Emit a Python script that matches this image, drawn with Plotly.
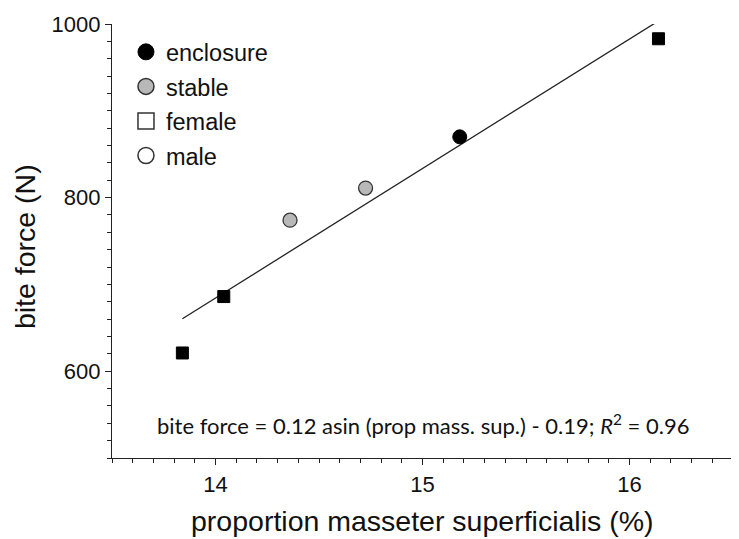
import numpy as np
import plotly.graph_objects as go

# ---- data ----
ef_x = [13.84, 14.04, 16.14]          # enclosure, female (squares, black)
ef_y = [621, 686, 983]
em_x = [15.18]                        # enclosure, male (circle, black)
em_y = [870]
sm_x = [14.36, 14.725]                # stable, male (circles, grey)
sm_y = [774, 811]

x_ticks = [14, 15, 16]
y_ticks = [600, 800, 1000]
legend_labels = ["enclosure", "stable", "female", "male"]
x_title = "proportion masseter superficialis (%)"
y_title = "bite force (N)"
equation = "bite force = 0.12 asin (prop mass. sup.) - 0.19; <i>R</i><sup>2</sup> = 0.96"

BLACK = "#000000"
GREY = "#b8b8b8"
TXT = "#111111"

all_x = np.array(ef_x + em_x + sm_x)
all_y = np.array(ef_y + em_y + sm_y)
slope, icpt = np.polyfit(all_x, all_y, 1)
fit_x = np.array([all_x.min(), all_x.max()])
fit_y = slope * fit_x + icpt

fig = go.Figure()
fig.add_trace(go.Scatter(x=fit_x, y=fit_y, mode="lines",
                         line=dict(color="#222222", width=1.3), showlegend=False,
                         hoverinfo="skip"))
fig.add_trace(go.Scatter(x=ef_x, y=ef_y, mode="markers", showlegend=False,
                         marker=dict(symbol="square", size=12, color=BLACK,
                                     line=dict(color=BLACK, width=1))))
fig.add_trace(go.Scatter(x=em_x, y=em_y, mode="markers", showlegend=False,
                         marker=dict(symbol="circle", size=14, color=BLACK,
                                     line=dict(color=BLACK, width=1))))
fig.add_trace(go.Scatter(x=sm_x, y=sm_y, mode="markers", showlegend=False,
                         marker=dict(symbol="circle", size=14, color=GREY,
                                     line=dict(color="#333333", width=1.3))))

# legend entries
leg_styles = [
    dict(symbol="circle", color=BLACK, line=dict(color=BLACK, width=1)),
    dict(symbol="circle", color=GREY, line=dict(color="#333333", width=1.5)),
    dict(symbol="square-open", color="#333333", line=dict(width=1.5)),
    dict(symbol="circle-open", color="#333333", line=dict(width=1.5)),
]
for lab, st in zip(legend_labels, leg_styles):
    fig.add_trace(go.Scatter(x=[None], y=[None], mode="markers", name=lab,
                             legendgroup=lab,
                             marker=dict(size=18, **st)))

fig.add_annotation(x=15.0, y=539, xref="x", yref="y", text=equation,
                   showarrow=False, font=dict(family="Lato", size=22, color=TXT))
fig.add_annotation(x=0.5, y=0, xref="paper", yref="paper", text=x_title,
                   showarrow=False, xanchor="center", yanchor="middle", yshift=-63,
                   font=dict(family="Liberation Sans", size=28.5, color=TXT))
fig.add_annotation(x=0, y=0.486, xref="paper", yref="paper", text=y_title,
                   showarrow=False, xanchor="center", yanchor="middle", xshift=-87,
                   textangle=-90,
                   font=dict(family="Liberation Sans", size=28.5, color=TXT))

axis_common = dict(showline=True, linecolor="#222222", linewidth=1.3,
                   ticks="outside", ticklen=6, tickwidth=1.3, tickcolor="#222222",
                   showgrid=False, zeroline=False, mirror=False, automargin=False,
                   tickfont=dict(family="Liberation Sans", size=22, color=TXT))

fig.update_xaxes(range=[13.5, 16.5], tickvals=x_ticks,
                 minor=dict(dtick=0.1, ticklen=3.5, tickwidth=1.1, tickcolor="#222222",
                            ticks="outside", showgrid=False),
                 **axis_common)
fig.update_yaxes(range=[500, 1000], tickvals=y_ticks,
                 minor=dict(dtick=20, ticklen=3.5, tickwidth=1.1, tickcolor="#222222",
                            ticks="outside", showgrid=False),
                 **axis_common)

# the page adds an 8px body margin, so the figure is made 8px smaller
fig.update_layout(
    width=731, height=531,
    margin=dict(l=104, r=6, t=16, b=81, autoexpand=False),
    plot_bgcolor="white", paper_bgcolor="white",
    showlegend=True,
    legend=dict(x=0.0225, y=0.986, xanchor="left", yanchor="top",
                bgcolor="rgba(0,0,0,0)", tracegroupgap=1,
                font=dict(family="Liberation Sans", size=23.5, color=TXT),
                itemsizing="trace"),
)

fig.write_html("out.html")
